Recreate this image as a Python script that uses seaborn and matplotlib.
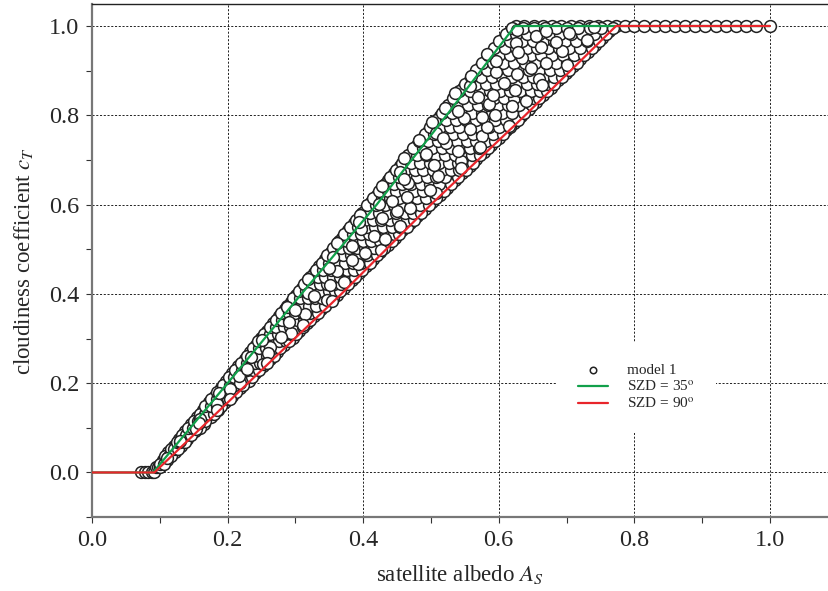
import matplotlib
matplotlib.use("Agg")
import matplotlib.pyplot as plt
import pandas as pd
import seaborn as sns
from matplotlib.ticker import MultipleLocator, FormatStrFormatter

# model 1 points, grouped by cloudiness coefficient level
cloud_rows = [0.0, 0.012, 0.028, 0.045, 0.06, 0.075, 0.092, 0.108, 0.125, 0.14, 0.157,
              0.172, 0.19, 0.205, 0.222, 0.238, 0.254, 0.27, 0.286, 0.302, 0.318,
              0.334, 0.35, 0.366, 0.382, 0.398, 0.414, 0.43, 0.446, 0.462, 0.478,
              0.494, 0.51, 0.526, 0.542, 0.558, 0.574, 0.59, 0.606, 0.622, 0.638,
              0.654, 0.67, 0.686, 0.702, 0.718, 0.734, 0.75, 0.766, 0.782, 0.798,
              0.814, 0.83, 0.846, 0.862, 0.878, 0.894, 0.91, 0.926, 0.942, 0.958,
              0.974, 0.988, 1.0]
albedo_rows = [
    [0.072, 0.078, 0.083, 0.088, 0.092],
    [0.094, 0.098, 0.101],
    [0.104, 0.108, 0.111],
    [0.112, 0.117, 0.122],
    [0.121, 0.127, 0.132],
    [0.128, 0.134, 0.14],
    [0.137, 0.144, 0.152],
    [0.146, 0.153, 0.161, 0.165],
    [0.155, 0.163, 0.17, 0.176],
    [0.163, 0.171, 0.179, 0.186],
    [0.172, 0.18, 0.189, 0.196],
    [0.181, 0.189, 0.197, 0.206],
    [0.19, 0.199, 0.208, 0.218],
    [0.198, 0.207, 0.216, 0.224, 0.231],
    [0.207, 0.216, 0.225, 0.234, 0.241],
    [0.216, 0.225, 0.234, 0.243, 0.252],
    [0.225, 0.234, 0.243, 0.252, 0.262],
    [0.233, 0.243, 0.252, 0.262, 0.273],
    [0.242, 0.252, 0.262, 0.272, 0.283],
    [0.25, 0.26, 0.27, 0.28, 0.289, 0.296],
    [0.258, 0.268, 0.278, 0.288, 0.298, 0.306],
    [0.267, 0.277, 0.287, 0.297, 0.307, 0.317],
    [0.276, 0.286, 0.296, 0.306, 0.317, 0.328],
    [0.284, 0.294, 0.305, 0.315, 0.326, 0.338],
    [0.293, 0.303, 0.314, 0.324, 0.335, 0.348],
    [0.301, 0.312, 0.322, 0.333, 0.344, 0.355, 0.361],
    [0.31, 0.321, 0.331, 0.342, 0.353, 0.363, 0.372],
    [0.318, 0.329, 0.34, 0.351, 0.362, 0.373, 0.383],
    [0.327, 0.338, 0.349, 0.36, 0.371, 0.382, 0.394],
    [0.335, 0.346, 0.357, 0.368, 0.38, 0.392, 0.404],
    [0.344, 0.355, 0.366, 0.377, 0.389, 0.401, 0.415],
    [0.352, 0.364, 0.375, 0.387, 0.399, 0.411, 0.425],
    [0.361, 0.372, 0.384, 0.396, 0.408, 0.42, 0.436],
    [0.369, 0.381, 0.393, 0.405, 0.417, 0.43, 0.447],
    [0.378, 0.39, 0.402, 0.414, 0.426, 0.439, 0.451, 0.458],
    [0.386, 0.398, 0.41, 0.423, 0.435, 0.448, 0.46, 0.469],
    [0.395, 0.407, 0.419, 0.432, 0.444, 0.457, 0.469, 0.48],
    [0.404, 0.416, 0.428, 0.441, 0.453, 0.466, 0.479, 0.491],
    [0.412, 0.424, 0.437, 0.45, 0.462, 0.475, 0.488, 0.502],
    [0.42, 0.433, 0.446, 0.459, 0.471, 0.484, 0.497, 0.513],
    [0.429, 0.442, 0.455, 0.468, 0.48, 0.493, 0.507, 0.524],
    [0.437, 0.45, 0.463, 0.476, 0.49, 0.503, 0.517, 0.535],
    [0.446, 0.459, 0.472, 0.485, 0.499, 0.512, 0.526, 0.546],
    [0.455, 0.468, 0.481, 0.494, 0.508, 0.522, 0.536, 0.546, 0.557],
    [0.463, 0.476, 0.49, 0.503, 0.517, 0.531, 0.545, 0.556, 0.567],
    [0.472, 0.485, 0.499, 0.512, 0.526, 0.54, 0.554, 0.566, 0.578],
    [0.48, 0.494, 0.507, 0.521, 0.535, 0.549, 0.563, 0.576, 0.589],
    [0.489, 0.502, 0.516, 0.53, 0.544, 0.558, 0.572, 0.586, 0.6],
    [0.497, 0.511, 0.525, 0.539, 0.553, 0.567, 0.581, 0.596, 0.611],
    [0.506, 0.52, 0.534, 0.548, 0.562, 0.576, 0.591, 0.606, 0.622],
    [0.514, 0.528, 0.542, 0.557, 0.571, 0.585, 0.6, 0.615, 0.633],
    [0.523, 0.537, 0.551, 0.566, 0.58, 0.595, 0.61, 0.625, 0.644],
    [0.531, 0.546, 0.56, 0.575, 0.589, 0.604, 0.619, 0.634, 0.655],
    [0.54, 0.554, 0.569, 0.584, 0.598, 0.613, 0.628, 0.644, 0.656, 0.666],
    [0.548, 0.563, 0.578, 0.593, 0.608, 0.622, 0.637, 0.652, 0.665, 0.677],
    [0.557, 0.572, 0.587, 0.602, 0.617, 0.632, 0.647, 0.662, 0.676, 0.688],
    [0.566, 0.581, 0.596, 0.611, 0.626, 0.641, 0.656, 0.671, 0.686, 0.699],
    [0.574, 0.589, 0.604, 0.62, 0.635, 0.65, 0.665, 0.68, 0.696, 0.71],
    [0.583, 0.598, 0.613, 0.629, 0.644, 0.659, 0.675, 0.69, 0.706, 0.72],
    [0.591, 0.607, 0.622, 0.637, 0.653, 0.668, 0.684, 0.7, 0.716, 0.731],
    [0.6, 0.615, 0.631, 0.646, 0.662, 0.677, 0.693, 0.709, 0.725, 0.742],
    [0.608, 0.624, 0.639, 0.655, 0.67, 0.686, 0.702, 0.718, 0.735, 0.753],
    [0.616, 0.632, 0.648, 0.664, 0.68, 0.696, 0.712, 0.728, 0.745, 0.762],
    [0.625, 0.638, 0.652, 0.665, 0.679, 0.692, 0.706, 0.72, 0.733, 0.747,
     0.76, 0.773, 0.787, 0.8, 0.815, 0.83, 0.845, 0.86, 0.875, 0.89, 0.905,
     0.92, 0.935, 0.95, 0.965, 0.98, 1.0],
]

# second batch of model 1 points, sitting between the levels above
cloud_rows_b = [0.02, 0.036, 0.052, 0.068, 0.084, 0.1, 0.116, 0.132, 0.148, 0.164,
                0.181, 0.197, 0.213, 0.23, 0.246, 0.262, 0.278, 0.294, 0.31, 0.326,
                0.342, 0.358, 0.374, 0.39, 0.406, 0.422, 0.438, 0.454, 0.47, 0.486,
                0.502, 0.518, 0.534, 0.55, 0.566, 0.582, 0.598, 0.614, 0.63, 0.646,
                0.662, 0.678, 0.694, 0.71, 0.726, 0.742, 0.758, 0.774, 0.79, 0.806,
                0.822, 0.838, 0.854, 0.87, 0.886, 0.902, 0.918, 0.934, 0.95, 0.966,
                0.981, 0.995]
albedo_rows_b = [
    [0.1, 0.106],
    [0.108, 0.113, 0.117],
    [0.116, 0.121, 0.127],
    [0.125, 0.13, 0.137],
    [0.133, 0.139, 0.146],
    [0.141, 0.149, 0.155, 0.159],
    [0.15, 0.157, 0.166],
    [0.159, 0.166, 0.172, 0.18],
    [0.167, 0.175, 0.184, 0.19],
    [0.176, 0.185, 0.193, 0.2],
    [0.185, 0.192, 0.203, 0.212],
    [0.193, 0.203, 0.211, 0.222],
    [0.202, 0.21, 0.221, 0.229, 0.236],
    [0.211, 0.221, 0.229, 0.238, 0.246],
    [0.22, 0.229, 0.24, 0.248, 0.256],
    [0.228, 0.238, 0.247, 0.258, 0.268],
    [0.237, 0.246, 0.257, 0.267, 0.278],
    [0.245, 0.256, 0.265, 0.276, 0.286, 0.29],
    [0.254, 0.263, 0.275, 0.284, 0.293, 0.301],
    [0.262, 0.272, 0.283, 0.292, 0.303, 0.311],
    [0.271, 0.281, 0.291, 0.302, 0.312, 0.322],
    [0.279, 0.29, 0.3, 0.311, 0.321, 0.333],
    [0.288, 0.299, 0.309, 0.32, 0.331, 0.343],
    [0.297, 0.307, 0.318, 0.329, 0.34, 0.35, 0.355],
    [0.305, 0.316, 0.327, 0.337, 0.349, 0.358, 0.366],
    [0.313, 0.325, 0.336, 0.346, 0.357, 0.368, 0.377],
    [0.322, 0.333, 0.344, 0.356, 0.366, 0.378, 0.388],
    [0.33, 0.341, 0.353, 0.364, 0.376, 0.387, 0.399],
    [0.339, 0.35, 0.362, 0.373, 0.385, 0.397, 0.41],
    [0.347, 0.359, 0.37, 0.382, 0.394, 0.406, 0.42],
    [0.356, 0.368, 0.379, 0.391, 0.403, 0.416, 0.431],
    [0.364, 0.376, 0.388, 0.4, 0.412, 0.425, 0.442],
    [0.372, 0.385, 0.397, 0.409, 0.421, 0.434, 0.446, 0.453],
    [0.381, 0.393, 0.406, 0.418, 0.43, 0.443, 0.455, 0.464],
    [0.389, 0.402, 0.414, 0.427, 0.44, 0.452, 0.464, 0.475],
    [0.398, 0.41, 0.423, 0.436, 0.449, 0.461, 0.474, 0.486],
    [0.406, 0.419, 0.432, 0.445, 0.457, 0.47, 0.484, 0.497],
    [0.415, 0.428, 0.44, 0.453, 0.466, 0.479, 0.493, 0.508],
    [0.423, 0.436, 0.449, 0.462, 0.475, 0.489, 0.502, 0.519],
    [0.432, 0.445, 0.458, 0.471, 0.485, 0.498, 0.512, 0.53],
    [0.44, 0.453, 0.467, 0.48, 0.494, 0.507, 0.521, 0.54],
    [0.449, 0.462, 0.476, 0.489, 0.503, 0.517, 0.53, 0.541, 0.551],
    [0.457, 0.471, 0.484, 0.498, 0.512, 0.526, 0.54, 0.551, 0.562],
    [0.466, 0.479, 0.493, 0.507, 0.521, 0.535, 0.549, 0.561, 0.573],
    [0.474, 0.488, 0.502, 0.516, 0.53, 0.544, 0.558, 0.571, 0.584],
    [0.482, 0.496, 0.51, 0.524, 0.539, 0.553, 0.567, 0.581, 0.595],
    [0.491, 0.505, 0.519, 0.533, 0.548, 0.562, 0.576, 0.591, 0.606],
    [0.499, 0.514, 0.528, 0.542, 0.557, 0.571, 0.586, 0.601, 0.617],
    [0.508, 0.522, 0.537, 0.551, 0.566, 0.58, 0.595, 0.61, 0.628],
    [0.516, 0.531, 0.545, 0.56, 0.575, 0.59, 0.605, 0.62, 0.638],
    [0.525, 0.54, 0.554, 0.569, 0.584, 0.599, 0.614, 0.63, 0.649],
    [0.533, 0.548, 0.563, 0.578, 0.593, 0.608, 0.623, 0.639, 0.651, 0.66],
    [0.542, 0.557, 0.572, 0.587, 0.602, 0.617, 0.632, 0.648, 0.661, 0.671],
    [0.55, 0.566, 0.581, 0.596, 0.611, 0.626, 0.642, 0.657, 0.671, 0.682],
    [0.559, 0.574, 0.59, 0.605, 0.62, 0.636, 0.651, 0.666, 0.681, 0.693],
    [0.567, 0.583, 0.598, 0.614, 0.63, 0.645, 0.66, 0.676, 0.691, 0.704],
    [0.576, 0.592, 0.607, 0.623, 0.639, 0.654, 0.67, 0.685, 0.701, 0.715],
    [0.584, 0.6, 0.616, 0.632, 0.648, 0.663, 0.679, 0.695, 0.711, 0.726],
    [0.593, 0.609, 0.625, 0.641, 0.657, 0.673, 0.689, 0.704, 0.72, 0.737],
    [0.601, 0.617, 0.634, 0.65, 0.666, 0.682, 0.698, 0.714, 0.73, 0.748],
    [0.61, 0.626, 0.642, 0.659, 0.675, 0.691, 0.707, 0.723, 0.74, 0.758],
    [0.619, 0.636, 0.652, 0.668, 0.685, 0.701, 0.717, 0.734, 0.751, 0.768],
]

# scattered model 1 points off the regular levels (incl. the bulges past the lines)
loose_albedo = [0.110, 0.130, 0.153, 0.159, 0.185, 0.188, 0.218, 0.217, 0.252, 0.234,
                0.263, 0.251, 0.294, 0.290, 0.314, 0.288, 0.346, 0.319, 0.351, 0.319,
                0.361, 0.392, 0.355, 0.427, 0.383, 0.361, 0.416, 0.397, 0.455, 0.428,
                0.395, 0.469, 0.424, 0.465, 0.508, 0.428, 0.466, 0.510, 0.454, 0.504,
                0.545, 0.460, 0.492, 0.540, 0.522, 0.483, 0.576, 0.508, 0.558, 0.615,
                0.502, 0.549, 0.595, 0.540, 0.520, 0.586, 0.640, 0.570, 0.536, 0.624,
                0.558, 0.608, 0.659, 0.559, 0.596, 0.647, 0.700, 0.596, 0.635, 0.583,
                0.693, 0.663, 0.625, 0.730, 0.655, 0.704, 0.627, 0.741, 0.432, 0.394,
                0.450, 0.442, 0.499, 0.460, 0.545, 0.572, 0.518, 0.583, 0.575, 0.620,
                0.592, 0.664, 0.627, 0.669, 0.628, 0.684, 0.670, 0.349, 0.383, 0.403,
                0.372, 0.327, 0.300, 0.311, 0.279, 0.260, 0.229, 0.204, 0.184, 0.158,
                0.204, 0.258, 0.354]
loose_cloud = [0.033, 0.071, 0.097, 0.119, 0.153, 0.178, 0.201, 0.217, 0.243, 0.259,
               0.281, 0.297, 0.313, 0.337, 0.355, 0.371, 0.387, 0.401, 0.419, 0.433,
               0.451, 0.467, 0.483, 0.499, 0.507, 0.515, 0.529, 0.545, 0.553, 0.569,
               0.577, 0.593, 0.601, 0.617, 0.625, 0.641, 0.649, 0.665, 0.673, 0.689,
               0.697, 0.705, 0.713, 0.721, 0.737, 0.745, 0.753, 0.761, 0.769, 0.777,
               0.785, 0.793, 0.801, 0.809, 0.817, 0.825, 0.833, 0.841, 0.849, 0.857,
               0.865, 0.873, 0.881, 0.889, 0.897, 0.905, 0.913, 0.921, 0.929, 0.937,
               0.945, 0.953, 0.961, 0.969, 0.977, 0.985, 0.992, 0.997, 0.523, 0.561,
               0.585, 0.609, 0.633, 0.657, 0.681, 0.729, 0.749, 0.773, 0.797, 0.821,
               0.845, 0.869, 0.893, 0.917, 0.941, 0.965, 0.989, 0.459, 0.475, 0.491,
               0.427, 0.395, 0.363, 0.331, 0.303, 0.267, 0.231, 0.187, 0.141, 0.111,
               0.165, 0.245, 0.385]

# SZD = 35 deg curve
szd35_albedo = [0.0, 0.09, 0.20, 0.309, 0.42, 0.523, 0.624, 1.0]
szd35_cloud = [0.0, 0.0, 0.20, 0.40, 0.60, 0.80, 1.0, 1.0]
# SZD = 90 deg curve
szd90_albedo = [0.0, 0.092, 0.230, 0.368, 0.50, 0.639, 0.773, 1.0]
szd90_cloud = [0.0, 0.0, 0.20, 0.40, 0.60, 0.80, 1.0, 1.0]

pairs = [(a, c) for c, row in zip(cloud_rows, albedo_rows) for a in row]
pairs += [(a, c) for c, row in zip(cloud_rows_b, albedo_rows_b) for a in row]
pairs += list(zip(loose_albedo, loose_cloud))
pts = pd.DataFrame(pairs, columns=["albedo", "cT"])
green = pd.DataFrame({"albedo": szd35_albedo, "cT": szd35_cloud})
red = pd.DataFrame({"albedo": szd90_albedo, "cT": szd90_cloud})

sns.set_style("ticks")
plt.rcParams["font.family"] = ["Liberation Serif", "DejaVu Serif"]
plt.rcParams["mathtext.fontset"] = "stix"

fig = plt.figure(figsize=(8.29, 5.91), dpi=100)
ax = fig.add_axes([0.111, 0.125, 0.888, 0.868])

sns.scatterplot(data=pts, x="albedo", y="cT", ax=ax, marker="o", s=72,
                facecolor="white", edgecolor="#222222", linewidth=1.1,
                label="model 1", zorder=2)
sns.lineplot(data=green, x="albedo", y="cT", ax=ax, sort=False, estimator=None,
             color="#11a04a", linewidth=1.6, label="SZD = 35$^{\\rm o}$", zorder=3)
sns.lineplot(data=red, x="albedo", y="cT", ax=ax, sort=False, estimator=None,
             color="#e8252b", linewidth=1.6, label="SZD = 90$^{\\rm o}$", zorder=4)

ax.xaxis.set_major_locator(MultipleLocator(0.2))
ax.xaxis.set_minor_locator(MultipleLocator(0.1))
ax.yaxis.set_major_locator(MultipleLocator(0.2))
ax.yaxis.set_minor_locator(MultipleLocator(0.1))
ax.set_xlim(0, 1.086)
ax.set_ylim(-0.1, 1.049)
ax.xaxis.set_major_formatter(FormatStrFormatter("%.1f"))
ax.yaxis.set_major_formatter(FormatStrFormatter("%.1f"))
ax.tick_params(which="both", direction="out", length=4, width=0.8,
               labelsize=17.5, color="#333333", pad=5)

ax.grid(True, which="major", color="black", linestyle=(0, (2.5, 2)), linewidth=0.6)
ax.set_axisbelow(True)

for side in ["left", "bottom"]:
    ax.spines[side].set_color("#777777")
    ax.spines[side].set_linewidth(1.6)
ax.spines["top"].set_visible(True)
ax.spines["top"].set_color("#222222")
ax.spines["top"].set_linewidth(1.0)
ax.spines["right"].set_visible(False)

ax.set_xlabel("satellite albedo $A_S$", fontsize=16.5, labelpad=9)
ax.set_ylabel("cloudiness coefficient $c_T$", fontsize=16.5, labelpad=10)

leg = ax.legend(loc="center", bbox_to_anchor=(0.739, 0.253), fontsize=11,
                frameon=True, fancybox=False, handlelength=2.0, handletextpad=1.2,
                borderpad=1.4, labelspacing=0.15, markerscale=0.55)
leg.get_frame().set_facecolor("white")
leg.get_frame().set_edgecolor("none")
leg.get_frame().set_alpha(1.0)
leg.set_zorder(10)

fig.savefig("out.png", dpi=100)
